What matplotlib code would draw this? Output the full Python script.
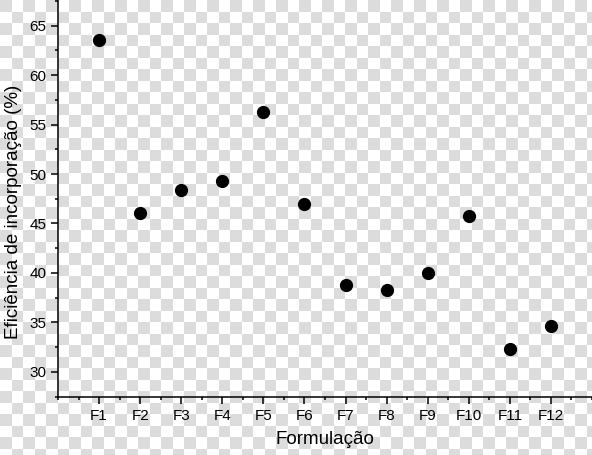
import matplotlib
matplotlib.use("Agg")
import matplotlib.pyplot as plt
import numpy as np
from matplotlib.ticker import MultipleLocator

# data
formulacoes = ["F1", "F2", "F3", "F4", "F5", "F6", "F7", "F8", "F9", "F10", "F11", "F12"]
eficiencia = [63.6, 46.1, 48.4, 49.3, 56.3, 47.0, 38.8, 38.3, 40.0, 45.8, 32.3, 34.6]

plt.rcParams["font.family"] = ["Liberation Sans", "DejaVu Sans"]

W, H = 592, 455
fig = plt.figure(figsize=(W / 100, H / 100), dpi=100)

# transparent-looking checkerboard behind the plot
bg = fig.add_axes([0, 0, 1, 1], zorder=-1)
yy, xx = np.mgrid[0:H, 0:W]
cell = 11.5
board = ((xx // cell + yy // cell) % 2).astype(float)
bg.imshow(board, cmap=matplotlib.colors.ListedColormap(["#dcdcdc", "#ffffff"]),
          interpolation="nearest", aspect="auto")
bg.axis("off")

ax = fig.add_axes([58 / W, 1 - 397 / H, 1 - 58 / W, 397 / H])
ax.set_facecolor("none")

x = np.arange(1, len(formulacoes) + 1)
ax.plot(x, eficiencia, "o", color="black", ms=8.5, clip_on=False)

ax.set_xlim(0, 13)
ax.set_ylim(27.45, 67.6)
ax.set_xticks(x)
ax.set_xticklabels(formulacoes)
ax.xaxis.set_minor_locator(MultipleLocator(0.5))
ax.yaxis.set_major_locator(MultipleLocator(5))
ax.yaxis.set_minor_locator(MultipleLocator(2.5))

for s in ["top", "right"]:
    ax.spines[s].set_visible(False)
for s in ["left", "bottom"]:
    ax.spines[s].set_linewidth(1.1)

ax.tick_params(which="major", length=5, width=1.1, labelsize=11, pad=3.5)
ax.tick_params(which="minor", length=2.5, width=1.1)

ax.set_xlabel("Formulação", fontsize=13.5)
ax.set_ylabel("Eficiência de incorporação (%)", fontsize=13.5)
ax.xaxis.set_label_coords(0.5, -0.085)
ax.yaxis.set_label_coords(-0.068, 0.466)

plt.savefig("out.png", dpi=100)
